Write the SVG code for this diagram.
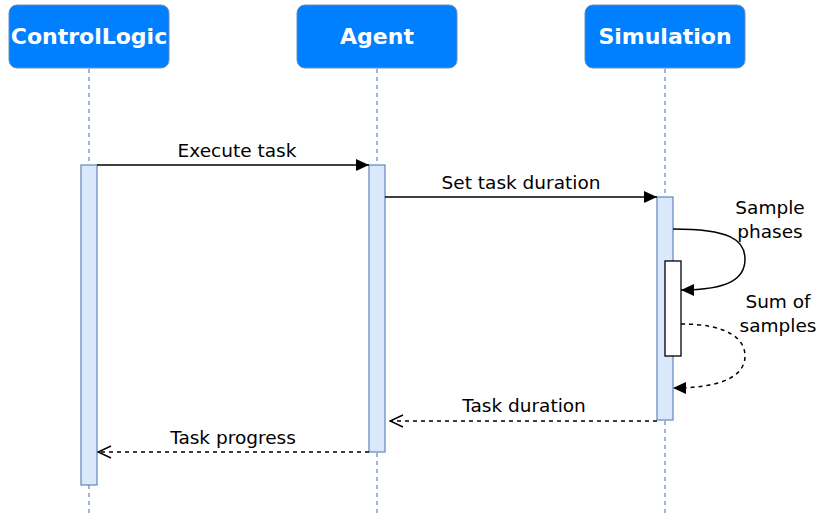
<svg xmlns="http://www.w3.org/2000/svg" width="818" height="517" viewBox="0 0 818 517">
  <defs>
    <style>
      .head rect { fill: #007fff; stroke: #6c8ebf; stroke-width: 1; }
      .head text { fill: #ffffff; font-family: "DejaVu Sans", Verdana, sans-serif; font-weight: bold; font-size: 22px; text-anchor: middle; }
      .life { stroke: #6c8ebf; stroke-width: 1.3; stroke-dasharray: 4 4; fill: none; }
      .act { fill: #dae8fc; stroke: #6c8ebf; stroke-width: 1.3; }
      .msg { stroke: #000; stroke-width: 1.5; fill: none; }
      .ret { stroke: #000; stroke-width: 1.5; fill: none; stroke-dasharray: 4 4; }
      .lbl { font-family: "DejaVu Sans", Verdana, sans-serif; font-size: 18.5px; fill: #000; text-anchor: middle; }
    </style>
    <marker id="fill" viewBox="0 0 13 12" refX="13" refY="6" markerWidth="13" markerHeight="12" markerUnits="userSpaceOnUse" orient="auto">
      <path d="M0,0 L13,6 L0,12 Z" fill="#000"/>
    </marker>
    <marker id="open" viewBox="0 0 15 14" refX="14" refY="7" markerWidth="15" markerHeight="14" markerUnits="userSpaceOnUse" orient="auto">
      <path d="M1,1 L14,7 L1,13" fill="none" stroke="#000" stroke-width="1.5"/>
    </marker>
  </defs>

  <!-- lifelines -->
  <g id="lifelines">
    <line class="life" x1="89" y1="69" x2="89" y2="517"/>
    <line class="life" x1="377" y1="69" x2="377" y2="517"/>
    <line class="life" x1="665" y1="69" x2="665" y2="517"/>
  </g>

  <!-- participants -->
  <g id="controllogic" class="head">
    <rect x="9" y="5" width="160" height="63" rx="8"/>
    <text x="89" y="44">ControlLogic</text>
  </g>
  <g id="agent" class="head">
    <rect x="297" y="5" width="160" height="63" rx="8"/>
    <text x="377" y="44">Agent</text>
  </g>
  <g id="simulation" class="head">
    <rect x="585" y="5" width="160" height="63" rx="8"/>
    <text x="665" y="44">Simulation</text>
  </g>

  <!-- activation bars -->
  <g id="controllogic-activation">
    <rect class="act" x="81" y="165" width="16" height="320"/>
  </g>
  <g id="agent-activation">
    <rect class="act" x="369" y="165" width="16" height="287"/>
  </g>
  <g id="simulation-activation">
    <rect class="act" x="657" y="197" width="16" height="223"/>
  </g>
  <g id="sampling-activation">
    <rect x="665" y="261" width="16" height="95" fill="#fff" stroke="#000" stroke-width="1.3"/>
  </g>

  <!-- messages -->
  <g id="connectors">
    <line class="msg" x1="97" y1="165" x2="369" y2="165" marker-end="url(#fill)"/>
    <line class="msg" x1="385" y1="197" x2="657" y2="197" marker-end="url(#fill)"/>
    <path class="msg" d="M673,229 C730,229 745,240 745,259 C745,278 730,290 681,290" marker-end="url(#fill)"/>
    <path class="ret" d="M681,324 C730,324 745,340 745,356 C745,372 730,388 673,388" marker-end="url(#fill)"/>
    <line class="ret" x1="657" y1="421" x2="390" y2="421" marker-end="url(#open)"/>
    <line class="ret" x1="369" y1="452" x2="98" y2="452" marker-end="url(#open)"/>
  </g>

  <!-- message labels -->
  <g id="labels">
    <text class="lbl" x="237" y="157">Execute task</text>
    <text class="lbl" x="521" y="189">Set task duration</text>
    <text class="lbl" x="770" y="214">Sample</text>
    <text class="lbl" x="770" y="238">phases</text>
    <text class="lbl" x="778" y="308">Sum of</text>
    <text class="lbl" x="778" y="332">samples</text>
    <text class="lbl" x="524" y="412">Task duration</text>
    <text class="lbl" x="233" y="444">Task progress</text>
  </g>
</svg>
